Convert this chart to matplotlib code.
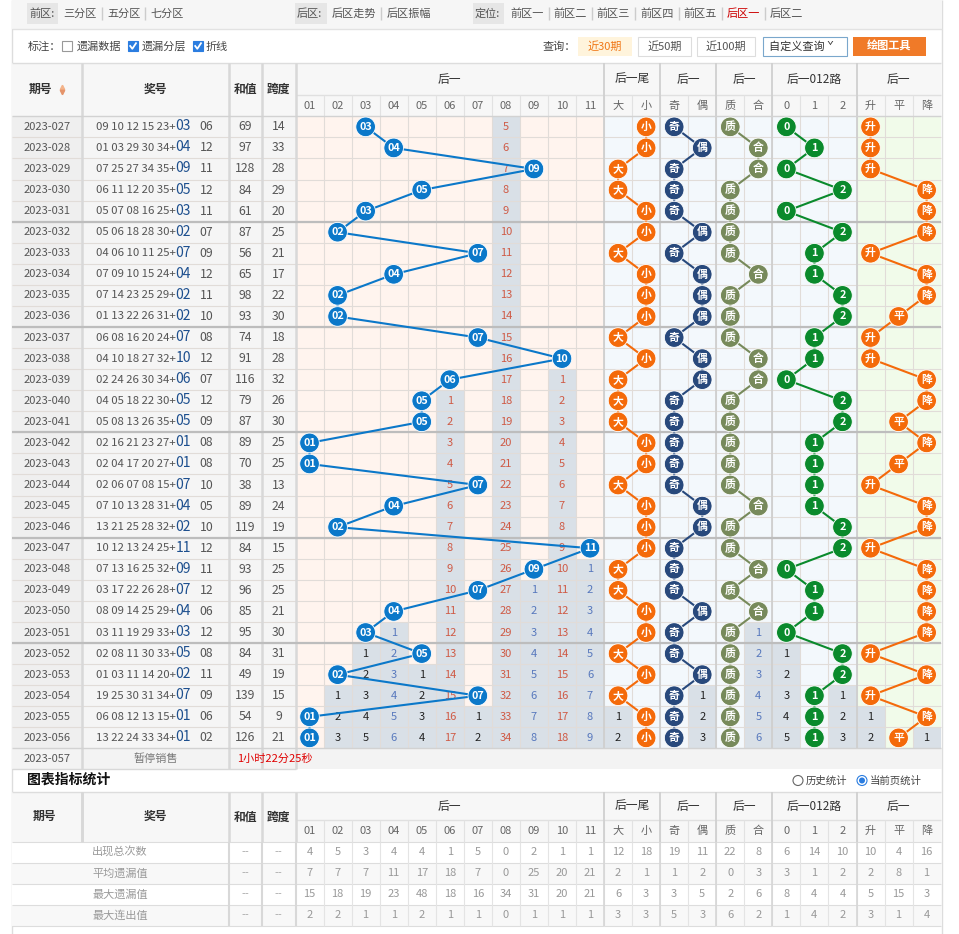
import matplotlib
matplotlib.use('Agg')
import matplotlib.pyplot as plt
from matplotlib.patches import Rectangle, Circle

plt.rcParams['font.family'] = ['Noto Sans CJK SC', 'DejaVu Sans']

# draw data, 2023-027 .. 2023-056
periods = ['2023-027', '2023-028', '2023-029', '2023-030', '2023-031',
           '2023-032', '2023-033', '2023-034', '2023-035', '2023-036',
           '2023-037', '2023-038', '2023-039', '2023-040', '2023-041',
           '2023-042', '2023-043', '2023-044', '2023-045', '2023-046',
           '2023-047', '2023-048', '2023-049', '2023-050', '2023-051',
           '2023-052', '2023-053', '2023-054', '2023-055', '2023-056']
front = ['09 10 12 15 23', '01 03 29 30 34', '07 25 27 34 35', '06 11 12 20 35', '05 07 08 16 25',
         '05 06 18 28 30', '04 06 10 11 25', '07 09 10 15 24', '07 14 23 25 29', '01 13 22 26 31',
         '06 08 16 20 24', '04 10 18 27 32', '02 24 26 30 34', '04 05 18 22 30', '05 08 13 26 35',
         '02 16 21 23 27', '02 04 17 20 27', '02 06 07 08 15', '07 10 13 28 31', '13 21 25 28 32',
         '10 12 13 24 25', '07 13 16 25 32', '03 17 22 26 28', '08 09 14 25 29', '03 11 19 29 33',
         '02 08 11 30 33', '01 03 11 14 20', '19 25 30 31 34', '06 08 12 13 15', '13 22 24 33 34']
back1 = [3, 4, 9, 5, 3, 2, 7, 4, 2, 2, 7, 10, 6, 5, 5,
         1, 1, 7, 4, 2, 11, 9, 7, 4, 3, 5, 2, 7, 1, 1]
back2 = [6, 12, 11, 12, 11, 7, 9, 12, 11, 10, 8, 12, 7, 12, 9,
         8, 8, 10, 5, 10, 12, 11, 12, 6, 12, 8, 11, 9, 6, 2]
sums = [69, 97, 128, 84, 61, 87, 56, 65, 98, 93, 74, 91, 116, 79, 87,
        89, 70, 38, 89, 119, 84, 93, 96, 85, 95, 84, 49, 139, 54, 126]
spans = [14, 33, 28, 29, 20, 25, 21, 17, 22, 30, 18, 28, 32, 26, 30,
         25, 25, 13, 24, 19, 15, 25, 25, 21, 30, 31, 19, 15, 9, 21]
first_trend = '升'          # 2023-027 vs 2023-026
miss_before = {7: 4}        # column 08 already missed 4 draws before 2023-027
next_period = '2023-057'

sub_labels = ['01', '02', '03', '04', '05', '06', '07', '08', '09', '10', '11',
              '大', '小', '奇', '偶', '质', '合', '0', '1', '2', '升', '平', '降']
groups = [('后一', 0, 11), ('后一尾', 11, 13), ('后一', 13, 15), ('后一', 15, 17),
          ('后一012路', 17, 20), ('后一', 20, 23)]

stat_names = ['出现总次数', '平均遗漏值', '最大遗漏值', '最大连出值']
stat_count = [4, 5, 3, 4, 4, 1, 5, 0, 2, 1, 1, 12, 18, 19, 11, 22, 8, 6, 14, 10, 10, 4, 16]
stat_avg = [7, 7, 7, 11, 17, 18, 7, 0, 25, 20, 21, 2, 1, 1, 2, 0, 3, 3, 1, 2, 2, 8, 1]
stat_maxmiss = [15, 18, 19, 23, 48, 18, 16, 34, 31, 20, 21, 6, 3, 3, 5, 2, 6, 8, 4, 4, 5, 15, 3]
stat_maxrun = [2, 2, 1, 1, 2, 1, 1, 0, 1, 1, 1, 3, 3, 5, 3, 6, 2, 1, 4, 2, 3, 1, 4]

# colours
BLUE = '#0b78c9'
ORANGE = '#f46a0a'
NAVY = '#28497c'
OLIVE = '#778a5b'
GREEN = '#0a8a2c'
GRAYLAYER = '#d9e0e7'

fig = plt.figure(figsize=(9.59, 9.34), dpi=100)
ax = fig.add_axes([0, 0, 1, 1])
ax.set_xlim(0, 959)
ax.set_ylim(934, 0)
ax.axis('off')


def rect(x0, y0, x1, y1, fc, ec='none', lw=0, z=1):
    ax.add_patch(Rectangle((x0, y0), x1 - x0, y1 - y0, fc=fc, ec=ec, lw=lw, zorder=z))


def txt(x, y, s, size=8, color='#555555', ha='center', weight='normal', z=5):
    ax.text(x, y, s, fontsize=size, color=color, ha=ha, va='center', fontweight=weight, zorder=z)


# ---- page frame
ax.vlines([12, 941.5], 0, 934, color='#dddddd', lw=1, zorder=0)

# ---- top navigation
rect(12, 0, 941.5, 29, '#f6f6f6')
ax.hlines(29, 12, 941.5, color='#e2e2e2', lw=1)
for x0, x1 in [(27, 58), (295, 327), (473, 504)]:
    rect(x0, 3, x1, 24, '#e6e6e6')
txt(29, 13.5, '前区:', 8, '#555555', 'left')
txt(297, 13.5, '后区:', 8, '#555555', 'left')
txt(475, 13.5, '定位:', 8, '#555555', 'left')
nav = [(63, '三分区'), (107, '五分区'), (150, '七分区'), (332, '后区走势'), (387, '后区振幅'),
       (510, '前区一'), (553, '前区二'), (596, '前区三'), (640, '前区四'), (683, '前区五'),
       (727, '后区一'), (770, '后区二')]
for x, s in nav:
    txt(x, 13.5, s, 8, '#cc0000' if s == '后区一' else '#555555', 'left')
for x in [102, 145, 381, 549, 592, 635, 679, 722, 765]:
    ax.vlines(x, 7, 20, color='#cccccc', lw=1)

txt(28, 46.5, '标注：', 8, '#444444', 'left')
for x, on in [(62, False), (128, True), (193, True)]:
    rect(x, 41, x + 10, 51, '#2b7de0' if on else 'white', '#999999' if not on else '#2b7de0', 0.8, 3)
    if on:
        ax.plot([x + 2.2, x + 4.3, x + 8], [46, 48.8, 43.2], color='white', lw=1.3, zorder=4)
txt(77, 46.5, '遗漏数据', 8, '#444444', 'left')
txt(142, 46.5, '遗漏分层', 8, '#444444', 'left')
txt(206, 46.5, '折线', 8, '#444444', 'left')

txt(543, 46.5, '查询：', 8, '#444444', 'left')
rect(578, 37, 632, 56, '#fff4dc')
txt(605, 46.5, '近30期', 8, '#f07818')
rect(638, 37, 691, 56, 'white', '#dddddd', 0.8)
txt(664.5, 46.5, '近50期', 8, '#555555')
rect(697, 37, 755, 56, 'white', '#dddddd', 0.8)
txt(726, 46.5, '近100期', 8, '#555555')
rect(763, 37, 847, 56, 'white', '#7aa7cc', 0.8)
txt(801, 46.5, '自定义查询 ˇ', 8, '#333333')
rect(853, 37, 926, 56, '#f07a28')
txt(889.5, 46.5, '绘图工具', 8, 'white', weight='bold')

# ---- table geometry
left_edges = [12, 82, 229, 262, 295.5]
cw = 28.05
cx = [295.5 + k * cw for k in range(24)]
ncol = 23
n = len(periods)
head_top, head_mid, y0 = 63, 95, 116.3
rh = 21.07
yb = [y0 + i * rh for i in range(n + 1)]


def draw_header(top, mid, bottom):
    rect(12, top, cx[-1], bottom, '#f7f7f7')
    ax.hlines(top, 12, cx[-1], color='#dddddd', lw=1)
    ax.hlines(mid, cx[0], cx[-1], color='#e0e0e0', lw=1)
    for label, a, b in groups:
        txt((cx[a] + cx[b]) / 2, (top + mid) / 2, label, 8.5, '#333333')
    for k, s in enumerate(sub_labels):
        txt((cx[k] + cx[k + 1]) / 2, (mid + bottom) / 2, s, 8, '#666666')
    ax.vlines(cx[1:-1], mid, bottom, color='#e2e2e2', lw=0.8)
    ax.vlines([cx[11], cx[13], cx[15], cx[17], cx[20]], top, bottom, color='#d0d0d0', lw=1.3)
    ax.vlines(left_edges[1:], top, bottom, color='#d8d8d8', lw=1.8)


draw_header(head_top, head_mid, y0)
hy = (head_top + y0) / 2
txt(40, hy, '期号', 8.5, '#333333', weight='bold')
ax.plot([62], [hy - 2.5], marker='^', ms=3.2, color='#f3b38a', lw=0)
ax.plot([62], [hy + 2.5], marker='v', ms=3.2, color='#e5946a', lw=0)
txt(155.5, hy, '奖号', 8.5, '#333333', weight='bold')
txt(245.5, hy, '和值', 8.5, '#333333', weight='bold')
txt(278.5, hy, '跨度', 8.5, '#333333', weight='bold')

# ---- derive the indicator columns from the first back number
trend = [first_trend]
for i in range(1, n):
    d = back1[i] - back1[i - 1]
    trend.append('升' if d > 0 else ('降' if d < 0 else '平'))
primes = {1, 2, 3, 5, 7, 11}
hit_col = []   # per row, list of (col, label)
for i, b in enumerate(back1):
    cols = [(b - 1, '%02d' % b)]
    cols.append((11, '大') if b % 10 >= 5 else (12, '小'))
    cols.append((13, '奇') if b % 2 else (14, '偶'))
    cols.append((15, '质') if b in primes else (16, '合'))
    cols.append((17 + b % 3, str(b % 3)))
    cols.append((20 + ['升', '平', '降'].index(trend[i]), trend[i]))
    hit_col.append(cols)

hits = [[False] * ncol for _ in range(n)]
for i, cols in enumerate(hit_col):
    for c, _ in cols:
        hits[i][c] = True

# ---- data area backgrounds
for i in range(n):
    rect(12, yb[i], 82, yb[i + 1], '#efefef')
    rect(82, yb[i], 295.5, yb[i + 1], '#f5f5f5')
for k in range(ncol):
    bg = '#fff4ee' if k < 11 else ('#f3f8fc' if k < 20 else '#f1fbea')
    rect(cx[k], yb[0], cx[k + 1], yb[-1], bg)

# missing-value layer
for k in range(ncol):
    rows = [i for i in range(n) if hits[i][k]]
    last = rows[-1] if rows else -1 - miss_before.get(k, 0)
    final = n - 1 - last
    col = '#cf5a45' if final >= 10 else ('#5778bd' if final >= 6 else '#222222')
    start = max(last + 1, 0)
    if start < n:
        rect(cx[k], yb[start], cx[k + 1], yb[-1], GRAYLAYER, z=1.5)
        for i in range(start, n):
            txt((cx[k] + cx[k + 1]) / 2, (yb[i] + yb[i + 1]) / 2, str(i - last), 8, col)

# grid lines
ax.hlines(yb[1:-1], 12, cx[-1], color='#e1dcd8', lw=0.8, zorder=2)
ax.vlines(cx[1:-1], yb[0], yb[-1], color='#e1dcd8', lw=0.8, zorder=2)
ax.vlines([cx[11], cx[13], cx[15], cx[17], cx[20]], yb[0], yb[-1], color='#cfcfcf', lw=1.3, zorder=2.1)
ax.vlines(left_edges[1:], yb[0], yb[-1] + rh, color='#d8d8d8', lw=1.8, zorder=2.1)
ax.hlines([yb[k] for k in range(5, n, 5)], 12, cx[-1], color='#bdbdbd', lw=1.6, zorder=2.2)
ax.hlines([yb[0], yb[-1]], 12, cx[-1], color='#d2d2d2', lw=1, zorder=2.2)

# left columns text
for i in range(n):
    yc = (yb[i] + yb[i + 1]) / 2
    txt(47, yc, periods[i], 8, '#555555')
    txt(176, yc, front[i] + '+', 8.2, '#555555', 'right')
    txt(175.5, yc - 0.5, '%02d' % back1[i], 10, '#1d4f8e', 'left')
    txt(199.5, yc, '%02d' % back2[i], 8.8, '#555555', 'left')
    txt(245.5, yc, str(sums[i]), 8.8, '#555555')
    txt(278.5, yc, str(spans[i]), 8.8, '#555555')

# polylines + balls
group_col = [(0, 11, BLUE), (11, 13, ORANGE), (13, 15, NAVY), (15, 17, OLIVE), (17, 20, GREEN), (20, 23, ORANGE)]
for a, b, colr in group_col:
    xs, ys = [], []
    for i, cols in enumerate(hit_col):
        for c, lab in cols:
            if a <= c < b:
                xc = (cx[c] + cx[c + 1]) / 2
                yc = (yb[i] + yb[i + 1]) / 2
                xs.append(xc)
                ys.append(yc)
                ax.add_patch(Circle((xc, yc), 9.8, fc=colr, ec='white', lw=0.6, zorder=7))
                txt(xc, yc, lab, 7.8, 'white', weight='bold', z=8)
    ax.plot(xs, ys, color=colr, lw=1.5, zorder=6)

# next-period row
ytop = yb[-1]
rect(12, ytop, 941.5, ytop + rh, '#f3f3f3', z=1)
ax.hlines(ytop + rh, 12, 295.5, color='#d8d8d8', lw=1)
txt(47, ytop + rh / 2, next_period, 8, '#555555')
txt(155.5, ytop + rh / 2, '暂停销售', 8, '#777777')
txt(237, ytop + rh / 2, '1小时22分25秒', 8, '#e00000', 'left')

# ---- statistics table
txt(27, 780, '图表指标统计', 10, '#111111', 'left', 'bold')
ax.add_patch(Circle((798, 780.5), 5, fc='white', ec='#666666', lw=0.8, zorder=5))
txt(806, 780.5, '历史统计', 7.5, '#444444', 'left')
ax.add_patch(Circle((862, 780.5), 5, fc='white', ec='#2b7de0', lw=0.8, zorder=5))
ax.add_patch(Circle((862, 780.5), 3, fc='#2b7de0', ec='none', zorder=6))
txt(870, 780.5, '当前页统计', 7.5, '#444444', 'left')

s_top, s_mid, s_y0, srh = 792, 820, 841.7, 21
draw_header(s_top, s_mid, s_y0)
shy = (s_top + s_y0) / 2
txt(44, shy, '期号', 8.5, '#333333', weight='bold')
txt(155.5, shy, '奖号', 8.5, '#333333', weight='bold')
txt(245.5, shy, '和值', 8.5, '#333333', weight='bold')
txt(278.5, shy, '跨度', 8.5, '#333333', weight='bold')

stat_rows = [stat_count, stat_avg, stat_maxmiss, stat_maxrun]
for r, (name, vals) in enumerate(zip(stat_names, stat_rows)):
    ya = s_y0 + r * srh
    rect(12, ya, cx[-1], ya + srh, 'white' if r % 2 == 0 else '#f8f8f8')
    yc = ya + srh / 2
    txt(120, yc, name, 8, '#9a9a9a')
    txt(245.5, yc, '--', 8, '#aaaaaa')
    txt(278.5, yc, '--', 8, '#aaaaaa')
    for k, v in enumerate(vals):
        txt((cx[k] + cx[k + 1]) / 2, yc, str(v), 8, '#999999')
sy = [s_y0 + r * srh for r in range(5)]
ax.hlines(sy, 12, cx[-1], color='#dddddd', lw=0.8, zorder=2)
ax.vlines(cx[1:-1], s_y0, sy[-1], color='#e4e4e4', lw=0.8, zorder=2)
ax.vlines([cx[11], cx[13], cx[15], cx[17], cx[20]], s_y0, sy[-1], color='#d6d6d6', lw=1.2, zorder=2)
ax.vlines(left_edges[2:], s_y0, sy[-1], color='#d8d8d8', lw=1.5, zorder=2)
ax.vlines(left_edges[1], s_top, s_y0, color='#d8d8d8', lw=1.8, zorder=2)

fig.savefig('out.png', dpi=100)
